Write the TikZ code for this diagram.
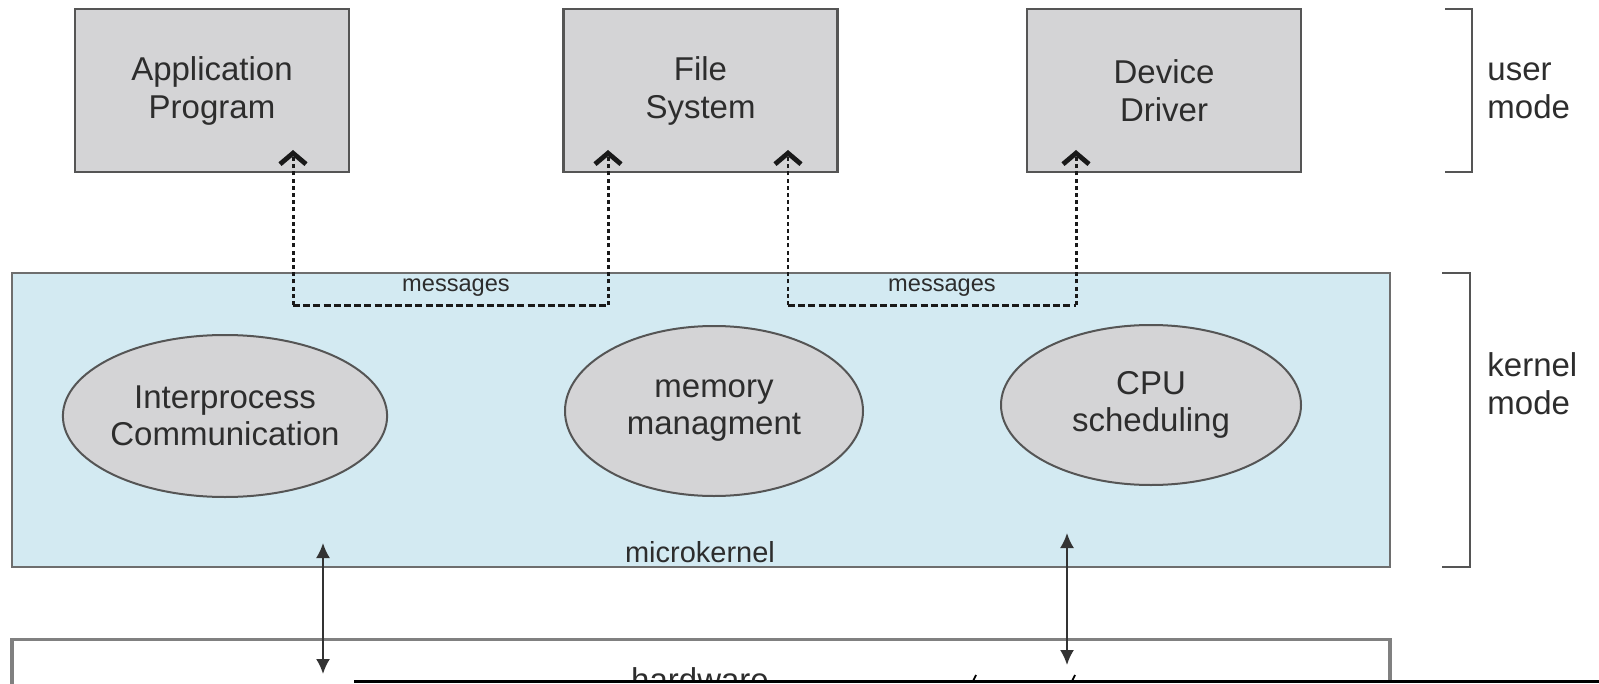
\documentclass[tikz,border=0pt]{standalone}
\usepackage{fontspec}
\setmainfont{Liberation Sans}
\usetikzlibrary{arrows.meta,shapes.geometric}
\definecolor{boxgray}{RGB}{212,212,214}
\definecolor{kernblue}{RGB}{211,234,242}
\definecolor{edgegray}{RGB}{85,85,85}
\definecolor{txt}{RGB}{45,45,45}
\begin{document}
\begin{tikzpicture}[x=0.5pt,y=-0.5pt,
  userbox/.style={draw=edgegray, line width=1.2pt, fill=boxgray, minimum width=137pt,
    minimum height=81.5pt, inner sep=0pt, align=center,
    font=\fontsize{16.5}{19}\selectfont, text=txt},
  kbox/.style={draw=edgegray!85, line width=1.3pt, fill=kernblue, inner sep=0pt},
  hwbox/.style={draw=edgegray!75, line width=1.6pt, fill=white, inner sep=0pt},
  ell/.style={ellipse, draw=edgegray, line width=1pt, fill=boxgray, inner sep=0pt,
    align=center, font=\fontsize{16.5}{18.5}\selectfont, text=txt},
  lbl/.style={text=txt, inner sep=0pt, align=left, font=\fontsize{16.5}{19}\selectfont},
  msglbl/.style={text=txt, inner sep=0pt, font=\fontsize{11.8}{13}\selectfont},
  msgv/.style={line width=1.5pt, black!90, dash pattern=on 2pt off 1.6pt,
    -{Straight Barb[length=5.5pt,width=13pt,line width=2.4pt]}},
  msgh/.style={line width=1.5pt, black!90, dash pattern=on 3.5pt off 1.6pt},
  biarrow/.style={line width=1pt, draw=black!80,
    {Latex[length=7.5pt,width=7pt]}-{Latex[length=7.5pt,width=7pt]}},
  bracket/.style={line width=1.4pt, draw=edgegray}
]
\useasboundingbox (0,0) rectangle (1599,684);
\clip (0,0) rectangle (1599,684);

% kernel and hardware layers
\node[kbox, minimum width=689pt, minimum height=147pt] (kernel) at (701,420) {};
\node[hwbox, minimum width=689pt, minimum height=80pt, anchor=north] (hw) at (701,638) {};
\node[inner sep=0pt, anchor=base, text=txt, font=\fontsize{16.5}{19}\selectfont] (hwlbl) at (700,691) {hardware};

% user boxes
\node[userbox] (app) at (212,90.5) {Application\\Program};
\node[userbox] (fs) at (700.5,90.5) {File\\System};
\node[userbox] (dd) at (1164,90.5) {Device\\Driver};

% kernel components
\node[ell, minimum width=150pt, minimum height=81pt] (ipc) at (225,416) {Interprocess\\Communication};
\node[ell, minimum width=149pt, minimum height=85pt] (mem) at (714,411) {memory\\managment};
\node[ell, minimum width=150pt, minimum height=80pt] (cpu) at (1151,405) {CPU\\scheduling};
\node[inner sep=0pt, text=txt, font=\fontsize{14.5}{17}\selectfont] (mk) at (700,552) {microkernel};

% message ports
\coordinate (appport) at (293,150);
\coordinate (fsportA) at (608,150);
\coordinate (fsportB) at (788,150);
\coordinate (ddport) at (1076,150);
\coordinate (msgline) at (0,305);

\draw[msgh] (appport |- msgline) -- (fsportA |- msgline);
\draw[msgv] (appport |- msgline) -- (appport);
\draw[msgv] (fsportA |- msgline) -- (fsportA);
\node[msglbl] (msg1) at (456,288) {messages};

\draw[msgh] (fsportB |- msgline) -- (ddport |- msgline);
\draw[msgv, line width=1.1pt] (fsportB |- msgline) -- (fsportB);
\draw[msgv] (ddport |- msgline) -- (ddport);
\node[msglbl] (msg2) at (942,288) {messages};

% kernel <-> hardware
\coordinate (kupA) at (323,543);
\coordinate (hwdnA) at (323,674);
\coordinate (kupB) at (1067,533);
\coordinate (hwdnB) at (1067,665);
\draw[biarrow] (kupA) -- (hwdnA);
\draw[biarrow] (kupB) -- (hwdnB);

% mode brackets
\draw[bracket] (1445,9) -- (1472,9) -- (1472,172) -- (1445,172);
\draw[bracket] (1442,273) -- (1470,273) -- (1470,567) -- (1442,567);
\node[lbl, anchor=west] (um) at (1487,91) {user\\mode};
\node[lbl, anchor=west] (km) at (1487,384) {kernel\\mode};

% overlay edge at the bottom
\fill[white] (354,682) rectangle (1610,700);
\draw[line width=1.1pt, black] (354,681.5) -- (1610,681.5);
\draw[line width=0.9pt, black] (976,675) -- (973,681);
\draw[line width=0.9pt, black] (1075,675) -- (1072,681);
\end{tikzpicture}
\end{document}
